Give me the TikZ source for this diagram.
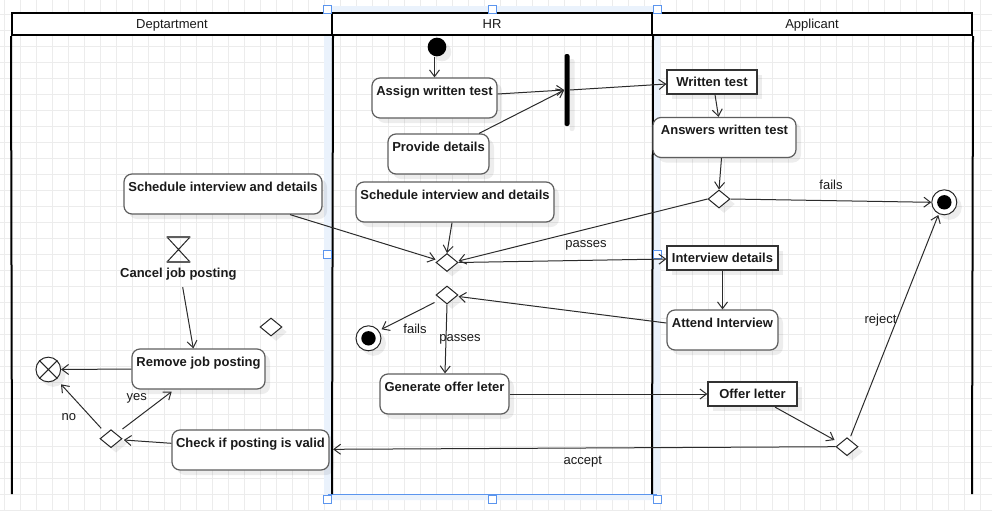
\documentclass[tikz,border=0pt]{standalone}
\usepackage{fontspec}
\setmainfont{Liberation Sans}
\usetikzlibrary{shapes.geometric,arrows.meta,calc,shadows}
\definecolor{gridc}{HTML}{ECECEC}
\definecolor{edgec}{HTML}{2B2B2B}
\definecolor{boxc}{HTML}{5E5E5E}
\definecolor{txtc}{HTML}{1A1A1A}
\definecolor{selfill}{HTML}{EAF2FC}
\definecolor{selline}{HTML}{5B95EE}
\begin{document}
\begin{tikzpicture}[x=0.75pt,y=-0.75pt,
  every node/.style={font=\fontsize{9.75pt}{11pt}\selectfont, text=txtc},
  shad/.style={drop shadow={shadow xshift=3.75pt,shadow yshift=-3.75pt,fill=black,opacity=0.07}},
  act/.style={shad, draw=boxc, line width=0.9pt, fill=white, rounded corners=6pt,
    inner sep=0pt, text height=12.75pt, text depth=17.25pt,
    font=\fontsize{9.75pt}{11pt}\selectfont\bfseries},
  obj/.style={shad, draw=black!80, line width=0.9pt, fill=white, inner sep=0pt,
    minimum height=18pt, text height=7pt, text depth=0pt,
    font=\fontsize{9.75pt}{11pt}\selectfont\bfseries},
  dec/.style={shad, diamond, draw=black!85, line width=0.75pt, fill=white,
    inner sep=0pt, minimum width=16.5pt, minimum height=13.5pt},
  finalnode/.style={shad, circle, draw=black!85, fill=white, line width=0.75pt,
    inner sep=0pt, minimum size=18.75pt,
    path picture={\fill[black] (path picture bounding box.center) circle (5.4pt);}},
  flow/.style={draw=edgec, line width=0.75pt, -{Straight Barb[length=5pt,width=7.5pt]}},
  elbl/.style={anchor=base, inner sep=0pt},
  hdr/.style={draw=black, line width=1.5pt, fill=white, minimum width=240pt,
    minimum height=16.5pt, inner sep=0pt, text height=7pt, text depth=0pt},
  lane/.style={draw=black, line width=1.5pt},
  handle/.style={draw=selline, fill=white, line width=0.6pt, minimum size=6pt, inner sep=0pt}
]
\useasboundingbox (0,0) rectangle (992,511);
% grid
\foreach \gx in {0,...,61} \draw[gridc, line width=0.75pt] ({4.3+16*\gx},0) -- ({4.3+16*\gx},511);
\foreach \gy in {0,...,32} \draw[gridc, line width=0.75pt] (0,{-2+16*\gy}) -- (992,{-2+16*\gy});
% selection highlight of HR lane
\fill[selfill, even odd rule] (324,6) rectangle (660,500) (332,13) rectangle (652,494);
\draw[selline, line width=0.6pt] (327.5,494.5) -- (657,494.5);
% lanes
\node[hdr] (hdep) at (172,24) {Deptartment};
\node[hdr] (hhr) at (492,24) {HR};
\node[hdr] (happ) at (812,24) {Applicant};
\draw[lane] (hdep.south west) -- (12,494);
\draw[lane] (hdep.south east) -- (332,494);
\draw[lane] (hhr.south east) -- (652,494);
\draw[lane] (happ.south east) -- (972,494);
% handles
\foreach \hx/\hy [count=\hi] in {327.5/9,492.3/9,657/9,327.5/254,657/254,327.5/499,492.3/499,657/499}
  \node[handle] (hnd\hi) at (\hx,\hy) {};

% ---------- HR lane ----------
\node[shad, circle, fill=black, inner sep=0pt, minimum size=14pt] (start) at (437,47) {};
\node[act, minimum width=93.75pt] (assign) at (434.5,98) {Assign written test};
\node[shad, fill=black, inner sep=0pt, minimum width=3.75pt, minimum height=54pt, rounded corners=1.5pt] (bar) at (567,90) {};
\node[act, minimum width=75.75pt] (provide) at (438.5,154) {Provide details};
\node[act, minimum width=148.5pt] (schedHR) at (455,202) {Schedule interview and details};
\node[dec] (d1) at (447,262.5) {};
\node[dec] (d2) at (447,295) {};
\node[finalnode] (finH) at (368.5,338.3) {};
\node[act, minimum width=96.75pt] (genoffer) at (444.5,394) {Generate offer leter};

% ---------- Department lane ----------
\node[act, minimum width=148.5pt] (schedD) at (223,194) {Schedule interview and details};
\node[minimum width=17.25pt, minimum height=18.75pt, inner sep=0pt] (hg) at (178.5,249.5) {};
\draw[black!85, line width=0.75pt] (hg.north west) -- (hg.south east) (hg.north east) -- (hg.south west);
\draw[boxc, line width=1.5pt] (hg.north west) -- (hg.north east) (hg.south west) -- (hg.south east);
\node[inner xsep=0pt, inner ysep=6.75pt, text height=7pt, text depth=0pt,
  font=\fontsize{9.75pt}{11pt}\selectfont\bfseries] (cancel) at (178.3,273.3) {Cancel job posting};
\node[dec] (dfloat) at (271,327) {};
\node[act, minimum width=99.75pt] (remove) at (198.5,369) {Remove job posting};
\node[shad, circle, draw=black!85, fill=white, line width=0.75pt, inner sep=0pt, minimum size=18.5pt] (ff) at (48.3,369.5) {};
\draw[black!85, line width=0.75pt] (ff.north west) -- (ff.south east) (ff.north east) -- (ff.south west);
\node[dec] (d3) at (111,438.7) {};
\node[act, minimum width=117.75pt] (check) at (250.5,450) {Check if posting is valid};

% ---------- Applicant lane ----------
\node[obj, minimum width=67.5pt] (written) at (712,82) {Written test};
\node[act, minimum width=107.25pt] (answers) at (724.5,137.5) {Answers written test};
\node[dec] (d4) at (719,199) {};
\node[finalnode] (finA) at (944.3,202.3) {};
\node[obj, minimum width=83.25pt] (interviewd) at (722.5,258) {Interview details};
\node[act, minimum width=83.25pt] (attend) at (722.5,330) {Attend Interview};
\node[obj, minimum width=66.75pt] (offerl) at (752.5,394) {Offer letter};
\node[dec] (d5) at (847,446.7) {};

% ---------- connectors ----------
\draw[flow] (start.south -| assign.north) -- (assign.north);
\draw[flow] ($(assign.east)+(0,-4)$) -- (bar.west);
\draw[flow] ($(provide.north)+(40.5,0)$) -- (bar.west);
\draw[flow] (bar.east) -- ($(written.west)+(0,2)$);
\draw[flow] ($(written.south)+(3,0)$) -- ($(answers.north)+(-6,0)$);
\draw[flow] ($(answers.south)+(-3,0)$) -- (d4.north);
\draw[flow] (d4.east) -- (finA.west);
\draw[flow] (d4.west) -- ($(d1.east)+(0,-1.5)$);
\draw[flow] ($(schedD.south)+(67,0)$) -- ($(d1.west)+(0,-3)$);
\draw[flow] ($(schedHR.south)+(-3,0)$) -- (d1.north);
\draw[flow] (d1.east) -- ($(interviewd.west)+(0,1)$);
\draw[flow] (interviewd.south) -- (attend.north);
\draw[flow] ($(attend.west)+(0,-7)$) -- ($(d2.east)+(0,1.5)$);
\draw[flow] ($(d2.west)+(-1,7.5)$) -- ($(finH)+(13,-9)$);
\draw[flow] (d2.south) -- ($(genoffer.north)+(0.5,0)$);
\draw[flow] (genoffer.east) -- (offerl.west);
\draw[flow] ($(offerl.south)+(22.5,0.5)$) -- ($(d5.west)+(-1,-6.7)$);
\draw[flow] ($(d5.north)+(3.7,-1)$) -- ($(finA)+(-6,12.7)$);
\draw[flow] (d5.west) -- ($(check.east)+(3.5,-0.7)$);
\draw[flow] ($(check.west)+(0,-6.7)$) -- ($(d3.east)+(1.3,1.3)$);
\draw[flow] ($(d3.east)+(0,-9.7)$) -- ($(remove.south)+(-26.8,2)$);
\draw[flow] ($(d3.west)+(1.7,-10.4)$) -- ($(ff)+(12.7,14.8)$);
\draw[flow] (remove.west) -- (ff.east);
\draw[flow] ($(cancel.south)+(4.4,0)$) -- ($(remove.north)+(-5.2,0)$);

% ---------- connector labels ----------
\node[elbl] (lfails1) at (831,189.3) {fails};
\node[elbl] (lpass1) at (586,247.3) {passes};
\node[elbl] (lfails2) at (415,333.3) {fails};
\node[elbl] (lpass2) at (460,341) {passes};
\node[elbl] (laccept) at (582.8,464) {accept};
\node[elbl] (lreject) at (880.5,323.5) {reject};
\node[elbl] (lyes) at (136.7,400.5) {yes};
\node[elbl] (lno) at (68.8,420) {no};
\end{tikzpicture}
\end{document}
